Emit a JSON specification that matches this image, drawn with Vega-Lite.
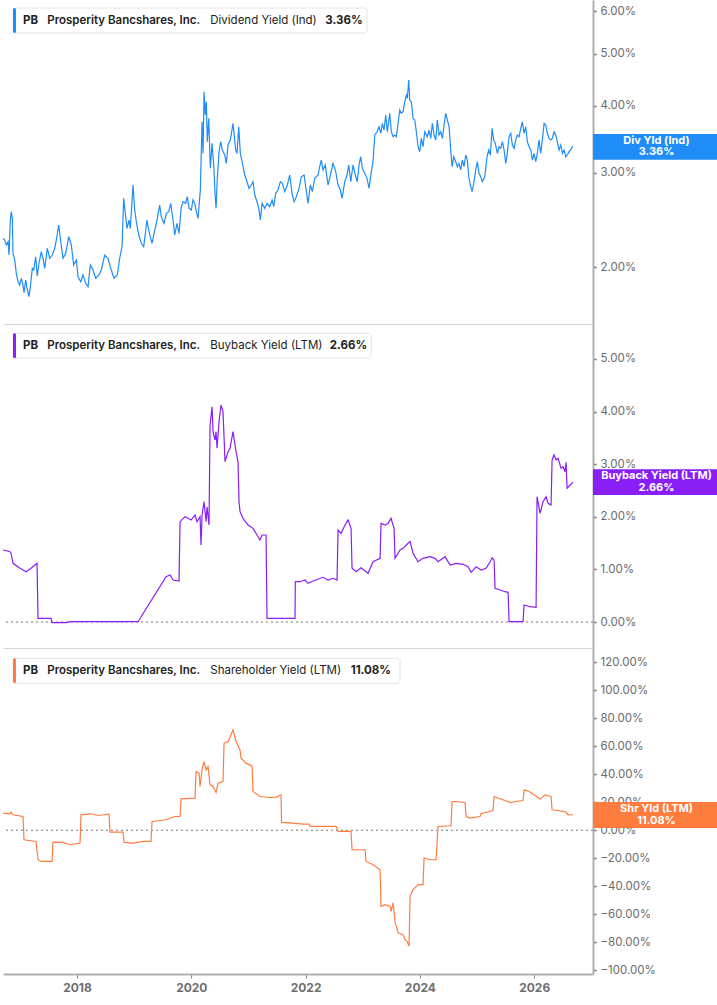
{
"$schema":"https://vega.github.io/schema/vega-lite/v6.json",
"padding":0,
"background":"white",
"spacing":0,
"bounds":"flush",
"config":{"font":"Inter","view":{"stroke":null},
"axisY":{"orient":"right","grid":false,"domainColor":"#b0b0b0","domainWidth":2,"tickColor":"#666","tickSize":3,"tickWidth":1.5,"labelColor":"#6b6b6b","labelFontSize":11.5,"labelPadding":4,"labelFont":"Inter","labelOverlap":false,"title":null},
"axisX":{"grid":false,"title":null}},
"datasets":{
"div":[{"t":2016.705,"v":2.265},{"t":2016.735,"v":2.249},{"t":2016.763,"v":2.201},{"t":2016.793,"v":2.232},{"t":2016.81,"v":2.108},{"t":2016.833,"v":2.45},{"t":2016.85,"v":2.539},{"t":2016.868,"v":2.468},{"t":2016.88,"v":2.124},{"t":2016.91,"v":2.064},{"t":2016.938,"v":1.949},{"t":2016.968,"v":1.88},{"t":2016.997,"v":1.854},{"t":2017.025,"v":1.908},{"t":2017.055,"v":1.854},{"t":2017.073,"v":1.793},{"t":2017.102,"v":1.894},{"t":2017.125,"v":1.828},{"t":2017.16,"v":1.763},{"t":2017.183,"v":1.84},{"t":2017.218,"v":1.991},{"t":2017.242,"v":1.977},{"t":2017.277,"v":2.093},{"t":2017.305,"v":1.927},{"t":2017.335,"v":2.035},{"t":2017.375,"v":2.139},{"t":2017.405,"v":2.079},{"t":2017.435,"v":1.991},{"t":2017.48,"v":2.17},{"t":2017.522,"v":2.079},{"t":2017.568,"v":2.108},{"t":2017.61,"v":2.17},{"t":2017.638,"v":2.249},{"t":2017.68,"v":2.398},{"t":2017.715,"v":2.232},{"t":2017.755,"v":2.079},{"t":2017.802,"v":2.124},{"t":2017.855,"v":2.281},{"t":2017.9,"v":2.201},{"t":2017.942,"v":2.02},{"t":2017.988,"v":2.064},{"t":2018.018,"v":1.921},{"t":2018.065,"v":1.88},{"t":2018.105,"v":1.935},{"t":2018.152,"v":1.867},{"t":2018.193,"v":1.84},{"t":2018.233,"v":2.02},{"t":2018.28,"v":1.977},{"t":2018.327,"v":1.908},{"t":2018.385,"v":1.935},{"t":2018.425,"v":1.977},{"t":2018.485,"v":2.108},{"t":2018.543,"v":2.079},{"t":2018.59,"v":1.991},{"t":2018.648,"v":1.908},{"t":2018.705,"v":1.935},{"t":2018.747,"v":2.079},{"t":2018.788,"v":2.185},{"t":2018.817,"v":2.689},{"t":2018.845,"v":2.522},{"t":2018.875,"v":2.364},{"t":2018.91,"v":2.45},{"t":2018.933,"v":2.364},{"t":2018.98,"v":2.847},{"t":2019.01,"v":2.558},{"t":2019.038,"v":2.432},{"t":2019.08,"v":2.297},{"t":2019.125,"v":2.217},{"t":2019.167,"v":2.185},{"t":2019.225,"v":2.45},{"t":2019.26,"v":2.33},{"t":2019.313,"v":2.217},{"t":2019.36,"v":2.347},{"t":2019.405,"v":2.468},{"t":2019.447,"v":2.613},{"t":2019.475,"v":2.485},{"t":2019.523,"v":2.416},{"t":2019.563,"v":2.522},{"t":2019.605,"v":2.539},{"t":2019.64,"v":2.632},{"t":2019.68,"v":2.45},{"t":2019.71,"v":2.297},{"t":2019.75,"v":2.416},{"t":2019.785,"v":2.314},{"t":2019.825,"v":2.594},{"t":2019.855,"v":2.65},{"t":2019.902,"v":2.632},{"t":2019.93,"v":2.708},{"t":2019.96,"v":2.576},{"t":2020.0,"v":2.558},{"t":2020.03,"v":2.67},{"t":2020.06,"v":2.632},{"t":2020.088,"v":2.539},{"t":2020.118,"v":2.468},{"t":2020.158,"v":2.787},{"t":2020.188,"v":3.736},{"t":2020.205,"v":3.262},{"t":2020.223,"v":4.249},{"t":2020.245,"v":3.845},{"t":2020.263,"v":4.071},{"t":2020.28,"v":3.429},{"t":2020.305,"v":3.791},{"t":2020.333,"v":3.059},{"t":2020.363,"v":3.405},{"t":2020.392,"v":3.103},{"t":2020.415,"v":2.748},{"t":2020.433,"v":2.576},{"t":2020.455,"v":2.93},{"t":2020.485,"v":3.285},{"t":2020.515,"v":3.429},{"t":2020.543,"v":3.309},{"t":2020.585,"v":3.239},{"t":2020.613,"v":3.125},{"t":2020.643,"v":3.381},{"t":2020.683,"v":3.454},{"t":2020.73,"v":3.711},{"t":2020.777,"v":3.309},{"t":2020.8,"v":3.262},{"t":2020.83,"v":3.657},{"t":2020.858,"v":3.262},{"t":2020.888,"v":3.147},{"t":2020.935,"v":2.972},{"t":2020.975,"v":2.888},{"t":2021.01,"v":2.807},{"t":2021.05,"v":2.847},{"t":2021.08,"v":2.888},{"t":2021.11,"v":2.728},{"t":2021.15,"v":2.65},{"t":2021.185,"v":2.558},{"t":2021.208,"v":2.45},{"t":2021.238,"v":2.632},{"t":2021.285,"v":2.576},{"t":2021.325,"v":2.632},{"t":2021.372,"v":2.594},{"t":2021.413,"v":2.67},{"t":2021.442,"v":2.594},{"t":2021.477,"v":2.748},{"t":2021.518,"v":2.787},{"t":2021.558,"v":2.888},{"t":2021.593,"v":2.868},{"t":2021.635,"v":2.767},{"t":2021.68,"v":2.847},{"t":2021.722,"v":2.972},{"t":2021.763,"v":2.748},{"t":2021.798,"v":2.65},{"t":2021.838,"v":2.708},{"t":2021.885,"v":2.807},{"t":2021.925,"v":2.95},{"t":2021.973,"v":2.972},{"t":2022.002,"v":2.827},{"t":2022.043,"v":2.632},{"t":2022.083,"v":2.847},{"t":2022.118,"v":2.767},{"t":2022.16,"v":2.93},{"t":2022.218,"v":2.972},{"t":2022.247,"v":3.08},{"t":2022.275,"v":3.17},{"t":2022.305,"v":3.037},{"t":2022.345,"v":3.103},{"t":2022.393,"v":2.847},{"t":2022.433,"v":2.972},{"t":2022.48,"v":3.125},{"t":2022.527,"v":3.015},{"t":2022.568,"v":2.847},{"t":2022.608,"v":2.787},{"t":2022.638,"v":2.689},{"t":2022.685,"v":2.888},{"t":2022.725,"v":2.972},{"t":2022.755,"v":3.103},{"t":2022.79,"v":2.888},{"t":2022.83,"v":3.103},{"t":2022.87,"v":2.972},{"t":2022.905,"v":2.888},{"t":2022.935,"v":3.103},{"t":2022.965,"v":3.215},{"t":2022.993,"v":3.059},{"t":2023.035,"v":2.994},{"t":2023.075,"v":2.93},{"t":2023.11,"v":2.807},{"t":2023.15,"v":3.015},{"t":2023.18,"v":3.147},{"t":2023.21,"v":3.529},{"t":2023.25,"v":3.579},{"t":2023.285,"v":3.657},{"t":2023.315,"v":3.555},{"t":2023.343,"v":3.711},{"t":2023.373,"v":3.605},{"t":2023.402,"v":3.845},{"t":2023.43,"v":3.579},{"t":2023.472,"v":3.873},{"t":2023.5,"v":3.579},{"t":2023.53,"v":3.503},{"t":2023.56,"v":3.529},{"t":2023.588,"v":3.503},{"t":2023.618,"v":3.711},{"t":2023.647,"v":3.929},{"t":2023.675,"v":3.873},{"t":2023.705,"v":3.9},{"t":2023.735,"v":4.071},{"t":2023.763,"v":4.19},{"t":2023.78,"v":4.131},{"t":2023.805,"v":4.468},{"t":2023.822,"v":4.101},{"t":2023.85,"v":4.071},{"t":2023.88,"v":3.791},{"t":2023.91,"v":3.764},{"t":2023.938,"v":3.579},{"t":2023.968,"v":3.356},{"t":2023.997,"v":3.285},{"t":2024.025,"v":3.479},{"t":2024.055,"v":3.356},{"t":2024.085,"v":3.579},{"t":2024.13,"v":3.503},{"t":2024.16,"v":3.605},{"t":2024.19,"v":3.479},{"t":2024.218,"v":3.711},{"t":2024.248,"v":3.529},{"t":2024.277,"v":3.454},{"t":2024.305,"v":3.764},{"t":2024.335,"v":3.529},{"t":2024.365,"v":3.579},{"t":2024.393,"v":3.479},{"t":2024.423,"v":3.684},{"t":2024.452,"v":3.873},{"t":2024.48,"v":3.764},{"t":2024.51,"v":3.657},{"t":2024.54,"v":3.309},{"t":2024.563,"v":3.08},{"t":2024.592,"v":3.215},{"t":2024.627,"v":3.147},{"t":2024.655,"v":3.08},{"t":2024.685,"v":3.125},{"t":2024.715,"v":3.037},{"t":2024.743,"v":3.17},{"t":2024.772,"v":3.08},{"t":2024.802,"v":3.239},{"t":2024.83,"v":3.17},{"t":2024.855,"v":2.95},{"t":2024.883,"v":2.847},{"t":2024.913,"v":2.767},{"t":2024.942,"v":2.868},{"t":2024.977,"v":3.037},{"t":2025.005,"v":3.147},{"t":2025.035,"v":2.994},{"t":2025.065,"v":2.95},{"t":2025.093,"v":2.888},{"t":2025.135,"v":2.95},{"t":2025.175,"v":3.215},{"t":2025.205,"v":3.309},{"t":2025.233,"v":3.239},{"t":2025.263,"v":3.632},{"t":2025.292,"v":3.454},{"t":2025.32,"v":3.405},{"t":2025.355,"v":3.262},{"t":2025.385,"v":3.356},{"t":2025.415,"v":3.333},{"t":2025.443,"v":3.429},{"t":2025.473,"v":3.309},{"t":2025.502,"v":3.125},{"t":2025.53,"v":3.262},{"t":2025.56,"v":3.503},{"t":2025.59,"v":3.555},{"t":2025.618,"v":3.381},{"t":2025.648,"v":3.333},{"t":2025.677,"v":3.454},{"t":2025.705,"v":3.529},{"t":2025.735,"v":3.503},{"t":2025.765,"v":3.632},{"t":2025.793,"v":3.736},{"t":2025.823,"v":3.555},{"t":2025.852,"v":3.657},{"t":2025.88,"v":3.429},{"t":2025.91,"v":3.356},{"t":2025.94,"v":3.309},{"t":2025.968,"v":3.17},{"t":2025.998,"v":3.262},{"t":2026.027,"v":3.147},{"t":2026.055,"v":3.262},{"t":2026.085,"v":3.454},{"t":2026.115,"v":3.262},{"t":2026.143,"v":3.454},{"t":2026.173,"v":3.711},{"t":2026.202,"v":3.684},{"t":2026.23,"v":3.555},{"t":2026.26,"v":3.479},{"t":2026.29,"v":3.454},{"t":2026.318,"v":3.479},{"t":2026.348,"v":3.579},{"t":2026.377,"v":3.529},{"t":2026.405,"v":3.429},{"t":2026.435,"v":3.309},{"t":2026.465,"v":3.381},{"t":2026.493,"v":3.262},{"t":2026.523,"v":3.309},{"t":2026.552,"v":3.215},{"t":2026.58,"v":3.239},{"t":2026.61,"v":3.285},{"t":2026.64,"v":3.309},{"t":2026.668,"v":3.356},{"t":2026.68,"v":3.36}],
"buy":[{"t":2016.705,"v":1.369},{"t":2016.828,"v":1.337},{"t":2016.845,"v":1.312},{"t":2016.88,"v":1.116},{"t":2017.003,"v":1.021},{"t":2017.108,"v":0.956},{"t":2017.195,"v":1.021},{"t":2017.3,"v":1.116},{"t":2017.318,"v":0.07},{"t":2017.545,"v":0.07},{"t":2017.563,"v":-0.013},{"t":2017.81,"v":-0.013},{"t":2017.878,"v":0.006},{"t":2019.068,"v":0.006},{"t":2019.558,"v":0.861},{"t":2019.628,"v":0.894},{"t":2019.68,"v":0.798},{"t":2019.785,"v":0.779},{"t":2019.803,"v":1.907},{"t":2019.89,"v":2.002},{"t":2019.943,"v":1.971},{"t":2019.995,"v":1.939},{"t":2020.065,"v":2.034},{"t":2020.1,"v":1.907},{"t":2020.153,"v":2.002},{"t":2020.17,"v":1.464},{"t":2020.188,"v":2.034},{"t":2020.223,"v":2.287},{"t":2020.258,"v":1.907},{"t":2020.275,"v":2.192},{"t":2020.31,"v":1.844},{"t":2020.328,"v":3.745},{"t":2020.363,"v":4.093},{"t":2020.38,"v":3.618},{"t":2020.415,"v":3.46},{"t":2020.433,"v":3.618},{"t":2020.45,"v":3.302},{"t":2020.485,"v":3.808},{"t":2020.52,"v":4.125},{"t":2020.555,"v":3.998},{"t":2020.59,"v":3.048},{"t":2020.643,"v":3.238},{"t":2020.678,"v":3.302},{"t":2020.73,"v":3.618},{"t":2020.783,"v":3.238},{"t":2020.818,"v":3.048},{"t":2020.835,"v":2.287},{"t":2020.853,"v":2.097},{"t":2020.905,"v":1.971},{"t":2020.993,"v":1.844},{"t":2021.08,"v":1.781},{"t":2021.168,"v":1.622},{"t":2021.203,"v":1.559},{"t":2021.238,"v":1.654},{"t":2021.308,"v":1.654},{"t":2021.325,"v":0.07},{"t":2021.815,"v":0.07},{"t":2021.82,"v":0.766},{"t":2021.903,"v":0.766},{"t":2021.99,"v":0.798},{"t":2022.043,"v":0.736},{"t":2022.13,"v":0.779},{"t":2022.305,"v":0.85},{"t":2022.393,"v":0.798},{"t":2022.48,"v":0.831},{"t":2022.55,"v":0.798},{"t":2022.568,"v":1.749},{"t":2022.62,"v":1.686},{"t":2022.69,"v":1.844},{"t":2022.743,"v":1.939},{"t":2022.795,"v":1.781},{"t":2022.813,"v":1.021},{"t":2022.883,"v":0.956},{"t":2022.97,"v":1.032},{"t":2023.093,"v":0.926},{"t":2023.18,"v":1.146},{"t":2023.303,"v":1.211},{"t":2023.32,"v":1.876},{"t":2023.39,"v":1.844},{"t":2023.443,"v":1.876},{"t":2023.495,"v":1.971},{"t":2023.548,"v":1.781},{"t":2023.565,"v":1.211},{"t":2023.653,"v":1.369},{"t":2023.705,"v":1.401},{"t":2023.793,"v":1.496},{"t":2023.828,"v":1.527},{"t":2023.88,"v":1.306},{"t":2023.968,"v":1.146},{"t":2024.055,"v":1.211},{"t":2024.178,"v":1.241},{"t":2024.265,"v":1.211},{"t":2024.318,"v":1.146},{"t":2024.44,"v":1.241},{"t":2024.528,"v":1.084},{"t":2024.633,"v":1.116},{"t":2024.755,"v":1.097},{"t":2024.843,"v":1.051},{"t":2024.895,"v":0.945},{"t":2024.983,"v":1.051},{"t":2025.07,"v":0.989},{"t":2025.158,"v":1.021},{"t":2025.228,"v":1.146},{"t":2025.263,"v":1.222},{"t":2025.298,"v":1.179},{"t":2025.315,"v":0.641},{"t":2025.403,"v":0.608},{"t":2025.49,"v":0.576},{"t":2025.543,"v":0.565},{"t":2025.56,"v":0.006},{"t":2025.805,"v":0.006},{"t":2025.823,"v":0.323},{"t":2025.928,"v":0.291},{"t":2026.033,"v":0.279},{"t":2026.05,"v":2.382},{"t":2026.103,"v":2.067},{"t":2026.155,"v":2.287},{"t":2026.208,"v":2.382},{"t":2026.243,"v":2.257},{"t":2026.295,"v":2.224},{"t":2026.313,"v":3.08},{"t":2026.348,"v":3.175},{"t":2026.383,"v":3.08},{"t":2026.418,"v":3.112},{"t":2026.47,"v":2.922},{"t":2026.505,"v":2.953},{"t":2026.54,"v":2.857},{"t":2026.558,"v":3.036},{"t":2026.575,"v":2.542},{"t":2026.628,"v":2.605},{"t":2026.68,"v":2.66}],
"shr":[{"t":2016.705,"v":12.26},{"t":2016.828,"v":11.76},{"t":2016.845,"v":12.97},{"t":2016.88,"v":11.05},{"t":2017.055,"v":9.84},{"t":2017.073,"v":-6.77},{"t":2017.283,"v":-7.98},{"t":2017.318,"v":-21.03},{"t":2017.37,"v":-22.24},{"t":2017.458,"v":-22.24},{"t":2017.563,"v":-22.24},{"t":2017.58,"v":-8.41},{"t":2017.755,"v":-8.7},{"t":2017.878,"v":-10.33},{"t":2018.053,"v":-9.12},{"t":2018.07,"v":11.05},{"t":2018.228,"v":11.76},{"t":2018.368,"v":10.55},{"t":2018.56,"v":11.55},{"t":2018.578,"v":-1.28},{"t":2018.805,"v":-1.28},{"t":2018.823,"v":-8.7},{"t":2018.98,"v":-9.12},{"t":2019.155,"v":-7.98},{"t":2019.295,"v":-7.98},{"t":2019.313,"v":6.27},{"t":2019.558,"v":7.48},{"t":2019.715,"v":9.84},{"t":2019.803,"v":9.84},{"t":2019.82,"v":22.45},{"t":2020.065,"v":22.95},{"t":2020.083,"v":41.91},{"t":2020.135,"v":40.77},{"t":2020.153,"v":31.22},{"t":2020.188,"v":43.12},{"t":2020.223,"v":49.04},{"t":2020.258,"v":43.12},{"t":2020.293,"v":45.47},{"t":2020.328,"v":32.43},{"t":2020.38,"v":31.22},{"t":2020.433,"v":26.94},{"t":2020.468,"v":33.64},{"t":2020.555,"v":34.78},{"t":2020.573,"v":62.15},{"t":2020.643,"v":63.29},{"t":2020.695,"v":68.07},{"t":2020.73,"v":71.63},{"t":2020.783,"v":63.29},{"t":2020.853,"v":57.38},{"t":2020.87,"v":51.46},{"t":2020.958,"v":47.9},{"t":2021.063,"v":45.97},{"t":2021.08,"v":27.65},{"t":2021.203,"v":24.09},{"t":2021.378,"v":23.38},{"t":2021.483,"v":23.66},{"t":2021.57,"v":25.3},{"t":2021.579,"v":5.56},{"t":2021.78,"v":5.13},{"t":2021.955,"v":4.42},{"t":2022.06,"v":4.42},{"t":2022.078,"v":2.71},{"t":2022.533,"v":2.71},{"t":2022.568,"v":-0.86},{"t":2022.795,"v":-0.86},{"t":2022.813,"v":-13.9},{"t":2023.04,"v":-13.9},{"t":2023.058,"v":-22.24},{"t":2023.18,"v":-24.59},{"t":2023.303,"v":-28.15},{"t":2023.32,"v":-54.31},{"t":2023.39,"v":-53.1},{"t":2023.478,"v":-54.31},{"t":2023.495,"v":-57.88},{"t":2023.53,"v":-51.89},{"t":2023.565,"v":-65.0},{"t":2023.618,"v":-73.27},{"t":2023.705,"v":-74.48},{"t":2023.74,"v":-78.05},{"t":2023.775,"v":-79.26},{"t":2023.81,"v":-82.82},{"t":2023.828,"v":-47.18},{"t":2023.88,"v":-42.41},{"t":2023.968,"v":-38.85},{"t":2024.055,"v":-38.85},{"t":2024.073,"v":-19.81},{"t":2024.178,"v":-21.03},{"t":2024.283,"v":-21.03},{"t":2024.318,"v":2.71},{"t":2024.545,"v":3.21},{"t":2024.563,"v":20.53},{"t":2024.633,"v":20.53},{"t":2024.79,"v":19.81},{"t":2024.808,"v":9.84},{"t":2024.878,"v":8.7},{"t":2025.053,"v":9.84},{"t":2025.07,"v":11.76},{"t":2025.28,"v":14.11},{"t":2025.298,"v":24.09},{"t":2025.403,"v":22.45},{"t":2025.578,"v":19.81},{"t":2025.683,"v":20.53},{"t":2025.805,"v":21.24},{"t":2025.823,"v":28.87},{"t":2025.91,"v":27.65},{"t":2025.998,"v":25.3},{"t":2026.103,"v":22.24},{"t":2026.19,"v":25.3},{"t":2026.295,"v":24.09},{"t":2026.313,"v":14.61},{"t":2026.418,"v":14.11},{"t":2026.558,"v":12.97},{"t":2026.593,"v":11.05},{"t":2026.68,"v":11.08}]
},
"vconcat":[
{"width":590,"height":324,
"layer":[
{"data":{"name":"div"},"mark":{"type":"line","color":"#1f8cf8","strokeWidth":1.2},
"encoding":{"x":{"field":"t","type":"quantitative","title":null,"scale":{"domain":[2016.705,2027.029],"nice":false,"zero":false},"axis":{"labels":false,"ticks":false,"domainColor":"#d4d4d4","domainWidth":1}},
"y":{"field":"v","type":"quantitative","title":null,"scale":{"type":"log","domain":[1.568,6.3],"nice":false},"axis":{"values":[2,3,4,5,6],"tickCount":20,"labelOverlap":false,"labelExpr":"format(datum.value, '.2f') + '%'"}}}},
{"data":{"values":[{}]},"mark":{"type":"rect","fill":"white","stroke":"#e4e4e4","strokeWidth":1,"cornerRadius":3},
"encoding":{"x":{"datum":2016.88},"x2":{"datum":2023.074},"y":{"datum":6.087},"y2":{"datum":5.467}}},
{"data":{"values":[{}]},"mark":{"type":"rect","fill":"#1f8cf8","cornerRadius":2},
"encoding":{"x":{"datum":2016.88},"x2":{"datum":2016.932},"y":{"datum":6.087},"y2":{"datum":5.467}}},
{"data":{"values":[{}]},"mark":{"type":"text","text":"PB","align":"left","baseline":"middle","fontSize":11.5,"fontWeight":700,"color":"#222"},
"encoding":{"x":{"datum":2017.055},"y":{"datum":5.768}}},
{"data":{"values":[{}]},"mark":{"type":"text","text":"Prosperity Bancshares, Inc.","align":"left","baseline":"middle","fontSize":11.5,"fontWeight":600,"color":"#222"},
"encoding":{"x":{"datum":2017.48},"y":{"datum":5.768}}},
{"data":{"values":[{}]},"mark":{"type":"text","text":"Dividend Yield (Ind)","align":"left","baseline":"middle","fontSize":11.5,"fontWeight":400,"color":"#222"},
"encoding":{"x":{"datum":2020.332},"y":{"datum":5.768}}},
{"data":{"values":[{}]},"mark":{"type":"text","text":"3.36%","align":"left","baseline":"middle","fontSize":11.5,"fontWeight":700,"color":"#222"},
"encoding":{"x":{"datum":2022.345},"y":{"datum":5.768}}},
{"data":{"values":[{}]},"mark":{"type":"rect","fill":"#1f8cf8"},
"encoding":{"x":{"datum":2027.029},"x2":{"datum":2029.3},"y":{"datum":3.544},"y2":{"datum":3.174}}},
{"data":{"values":[{}]},"mark":{"type":"text","text":"Div Yld (Ind)","align":"center","baseline":"middle","fontSize":11,"fontWeight":700,"color":"white","dy":-5.8},
"encoding":{"x":{"datum":2028.14},"y":{"datum":3.36}}},
{"data":{"values":[{}]},"mark":{"type":"text","text":"3.36%","align":"center","baseline":"middle","fontSize":11,"fontWeight":700,"color":"white","dy":5.8},
"encoding":{"x":{"datum":2028.14},"y":{"datum":3.36}}}
]},
{"width":590,"height":324,
"layer":[
{"data":{"values":[{}]},"mark":{"type":"rule","strokeDash":[2,3],"color":"#777","strokeWidth":1},
"encoding":{"y":{"datum":0}}},
{"data":{"name":"buy"},"mark":{"type":"line","color":"#8a1ef7","strokeWidth":1.2},
"encoding":{"x":{"field":"t","type":"quantitative","title":null,"scale":{"domain":[2016.705,2027.029],"nice":false,"zero":false},"axis":{"labels":false,"ticks":false,"domainColor":"#d4d4d4","domainWidth":1}},
"y":{"field":"v","type":"quantitative","title":null,"scale":{"domain":[-0.494,5.665],"nice":false,"zero":false},"axis":{"values":[0,1,2,3,4,5],"tickCount":20,"labelOverlap":false,"labelExpr":"format(datum.value, '.2f') + '%'"}}}},
{"data":{"values":[{}]},"mark":{"type":"rect","fill":"white","stroke":"#e4e4e4","strokeWidth":1,"cornerRadius":3},
"encoding":{"x":{"datum":2016.88},"x2":{"datum":2023.15},"y":{"datum":5.489},"y2":{"datum":5.013}}},
{"data":{"values":[{}]},"mark":{"type":"rect","fill":"#8a1ef7","cornerRadius":2},
"encoding":{"x":{"datum":2016.88},"x2":{"datum":2016.932},"y":{"datum":5.489},"y2":{"datum":5.013}}},
{"data":{"values":[{}]},"mark":{"type":"text","text":"PB","align":"left","baseline":"middle","fontSize":11.5,"fontWeight":700,"color":"#222"},
"encoding":{"x":{"datum":2017.055},"y":{"datum":5.251}}},
{"data":{"values":[{}]},"mark":{"type":"text","text":"Prosperity Bancshares, Inc.","align":"left","baseline":"middle","fontSize":11.5,"fontWeight":600,"color":"#222"},
"encoding":{"x":{"datum":2017.48},"y":{"datum":5.251}}},
{"data":{"values":[{}]},"mark":{"type":"text","text":"Buyback Yield (LTM)","align":"left","baseline":"middle","fontSize":11.5,"fontWeight":400,"color":"#222"},
"encoding":{"x":{"datum":2020.332},"y":{"datum":5.251}}},
{"data":{"values":[{}]},"mark":{"type":"text","text":"2.66%","align":"left","baseline":"middle","fontSize":11.5,"fontWeight":700,"color":"#222"},
"encoding":{"x":{"datum":2022.422},"y":{"datum":5.251}}},
{"data":{"values":[{}]},"mark":{"type":"rect","fill":"#8a1ef7"},
"encoding":{"x":{"datum":2027.029},"x2":{"datum":2029.3},"y":{"datum":2.903},"y2":{"datum":2.414}}},
{"data":{"values":[{}]},"mark":{"type":"text","text":"Buyback Yield (LTM)","align":"center","baseline":"middle","fontSize":11,"fontWeight":700,"color":"white","dy":-5.8},
"encoding":{"x":{"datum":2028.14},"y":{"datum":2.66}}},
{"data":{"values":[{}]},"mark":{"type":"text","text":"2.66%","align":"center","baseline":"middle","fontSize":11,"fontWeight":700,"color":"white","dy":5.8},
"encoding":{"x":{"datum":2028.14},"y":{"datum":2.66}}}
]},
{"width":590,"height":326,
"layer":[
{"data":{"values":[{}]},"mark":{"type":"rule","strokeDash":[2,3],"color":"#777","strokeWidth":1},
"encoding":{"y":{"datum":0}}},
{"data":{"name":"shr"},"mark":{"type":"line","color":"#ff7c3f","strokeWidth":1.2},
"encoding":{"x":{"field":"t","type":"quantitative","title":null,"scale":{"domain":[2016.705,2027.029],"nice":false,"zero":false},"axis":{"values":[2018,2020,2022,2024,2026],"format":"d","domainColor":"#b0b0b0","domainWidth":2,"tickColor":"#888","tickSize":4,"labelColor":"#6f6f6f","labelFontWeight":700,"labelFontSize":12,"labelPadding":4}},
"y":{"field":"v","type":"quantitative","title":null,"scale":{"domain":[-102.6,130.1],"nice":false,"zero":false},"axis":{"values":[-100,-80,-60,-40,-20,0,20,40,60,80,100,120],"tickCount":20,"labelOverlap":false,"labelExpr":"format(datum.value, '.2f') + '%'"}}}},
{"data":{"values":[{}]},"mark":{"type":"rect","fill":"white","stroke":"#e4e4e4","strokeWidth":1,"cornerRadius":3},
"encoding":{"x":{"datum":2016.88},"x2":{"datum":2023.652},"y":{"datum":122.7},"y2":{"datum":104.9}}},
{"data":{"values":[{}]},"mark":{"type":"rect","fill":"#ff7c3f","cornerRadius":2},
"encoding":{"x":{"datum":2016.88},"x2":{"datum":2016.932},"y":{"datum":122.7},"y2":{"datum":104.9}}},
{"data":{"values":[{}]},"mark":{"type":"text","text":"PB","align":"left","baseline":"middle","fontSize":11.5,"fontWeight":700,"color":"#222"},
"encoding":{"x":{"datum":2017.055},"y":{"datum":113.8}}},
{"data":{"values":[{}]},"mark":{"type":"text","text":"Prosperity Bancshares, Inc.","align":"left","baseline":"middle","fontSize":11.5,"fontWeight":600,"color":"#222"},
"encoding":{"x":{"datum":2017.48},"y":{"datum":113.8}}},
{"data":{"values":[{}]},"mark":{"type":"text","text":"Shareholder Yield (LTM)","align":"left","baseline":"middle","fontSize":11.5,"fontWeight":400,"color":"#222"},
"encoding":{"x":{"datum":2020.332},"y":{"datum":113.8}}},
{"data":{"values":[{}]},"mark":{"type":"text","text":"11.08%","align":"left","baseline":"middle","fontSize":11.5,"fontWeight":700,"color":"#222"},
"encoding":{"x":{"datum":2022.789},"y":{"datum":113.8}}},
{"data":{"values":[{}]},"mark":{"type":"rect","fill":"#ff7c3f"},
"encoding":{"x":{"datum":2027.029},"x2":{"datum":2029.3},"y":{"datum":20.1},"y2":{"datum":1.57}}},
{"data":{"values":[{}]},"mark":{"type":"text","text":"Shr Yld (LTM)","align":"center","baseline":"middle","fontSize":11,"fontWeight":700,"color":"white","dy":-5.8},
"encoding":{"x":{"datum":2028.14},"y":{"datum":11.08}}},
{"data":{"values":[{}]},"mark":{"type":"text","text":"11.08%","align":"center","baseline":"middle","fontSize":11,"fontWeight":700,"color":"white","dy":5.8},
"encoding":{"x":{"datum":2028.14},"y":{"datum":11.08}}}
]}
]
}
